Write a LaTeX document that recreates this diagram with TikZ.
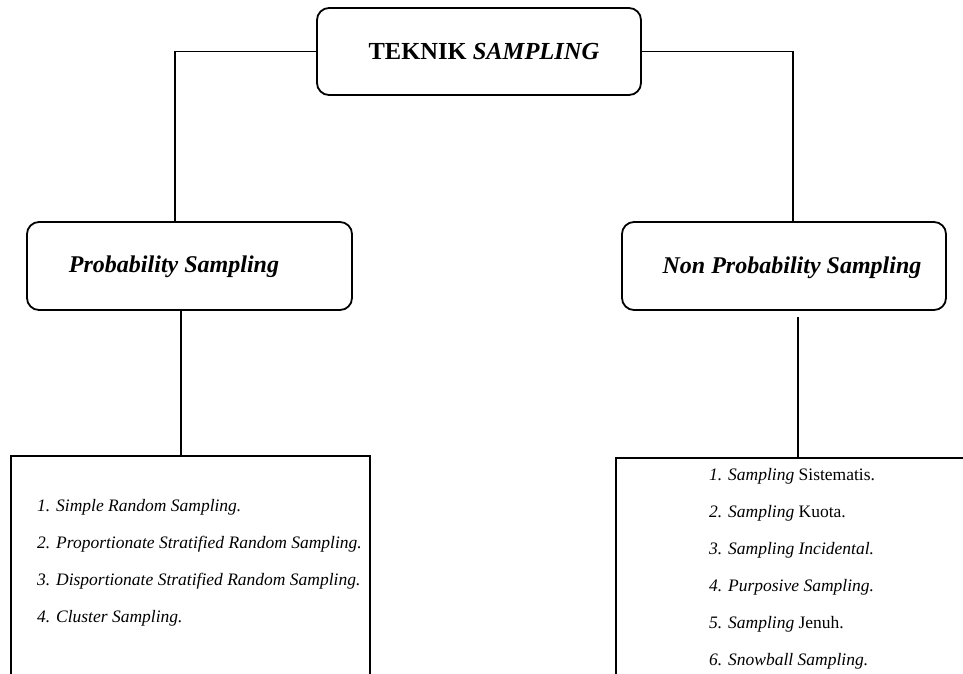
\documentclass[tikz,border=0pt]{standalone}
\usepackage{fontspec}
\setmainfont{Liberation Serif}
\usetikzlibrary{calc}
\begin{document}
\begin{tikzpicture}[x=1pt,y=1pt,yscale=-1,xscale=1]

% --- STYLES ---
\tikzset{
  headbox/.style={draw, line width=1.8pt, rounded corners=12pt, inner sep=0pt},
  listbox/.style={draw, line width=2.1pt, inner sep=0pt, anchor=north west},
  headtext/.style={anchor=base, inner sep=0pt, font=\fontsize{24}{28}\selectfont\bfseries\itshape},
  link/.style={line width=1.6pt},
  item/.style={anchor=base west, inner sep=0pt, font=\fontsize{17.5}{21}\selectfont\itshape}
}

\useasboundingbox (0,0) rectangle (963,673);
\clip (0,0) rectangle (963,673);

% --- TOP BOX ---
\node[headbox, minimum width=324pt, minimum height=87pt] (teknik) at (479,51.5) {};
\node[headtext, font=\fontsize{24.5}{28}\selectfont\bfseries] (teknikText) at (484,59) {TEKNIK \textit{SAMPLING}};

% --- SECOND LEVEL ---
\node[headbox, minimum width=325pt, minimum height=88pt] (prob) at (189.5,266) {};
\node[headtext] (probText) at (174,272) {Probability Sampling};

\node[headbox, minimum width=324pt, minimum height=88pt] (nonprob) at (784,266) {};
\node[headtext] (nonprobText) at (792,273) {Non Probability Sampling};

% --- LIST BOXES (cut by the page edge) ---
\node[listbox, minimum width=359pt, minimum height=260pt] (probList) at (10,455) {};
\node[listbox, minimum width=400pt, minimum height=260pt] (nonprobList) at (615,457) {};

% --- CONNECTORS ---
\coordinate (probTop) at ($(prob.north)+(-14.5,0)$);
\coordinate (nonprobTop) at ($(nonprob.north)+(9,0)$);
\coordinate (probDrop) at ($(prob.south)+(-8.5,0)$);
\coordinate (nonprobDrop) at ($(nonprob.south)+(14,6)$);

\draw[link] (teknik.west) -| (probTop);
\draw[link] (teknik.east) -| (nonprobTop);
\draw[link] (probDrop) -- (probDrop |- probList.north);
\draw[link] (nonprobDrop) -- (nonprobDrop |- nonprobList.north);

% --- LIST ITEMS ---
\foreach \txt [count=\i] in {{Simple Random Sampling.}, {Proportionate Stratified Random Sampling.},
    {Disportionate Stratified Random Sampling.}, {Cluster Sampling.}}
{
  \node[item] (probItem\i) at (37, {474+37*\i}) {\i. \txt};
}

\foreach \txt [count=\i] in {{Sampling \textup{Sistematis.}}, {Sampling \textup{Kuota.}},
    {Sampling Incidental.}, {Purposive Sampling.}, {Sampling \textup{Jenuh.}}, {Snowball Sampling.}}
{
  \node[item] (nonprobItem\i) at (709, {443+37*\i}) {\i. \txt};
}

\end{tikzpicture}
\end{document}
